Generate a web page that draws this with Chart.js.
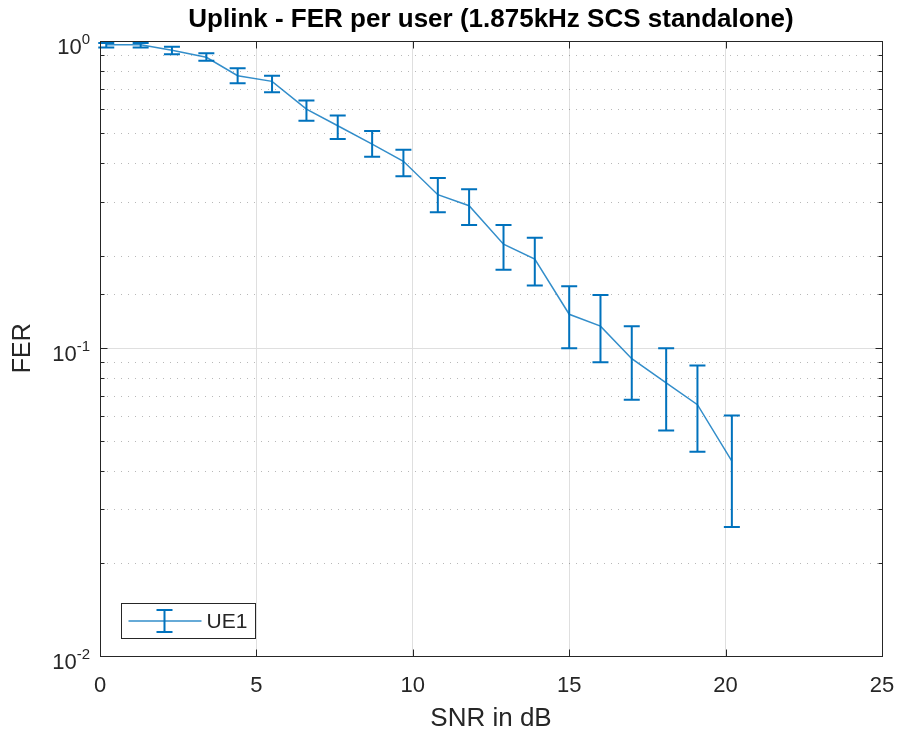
<!DOCTYPE html>
<html>
<head>
<meta charset="utf-8">
<title>Uplink - FER per user</title>
<script src="https://cdn.jsdelivr.net/npm/chart.js@4.4.0/dist/chart.umd.min.js"></script>
<style>
  html, body { margin: 0; padding: 0; background: #fff; }
  #wrap { width: 901px; height: 738px; }
</style>
</head>
<body>
<div id="wrap"><canvas id="fer-chart" width="901" height="738"></canvas></div>
<script>
(function() {
	'use strict';

	// values
	var snrDb   = [0.2, 1.3, 2.3, 3.4, 4.4, 5.5, 6.6, 7.6, 8.7, 9.7, 10.8, 11.8, 12.9, 13.9, 15.0, 16.0, 17.0, 18.1, 19.1, 20.2];
	var ferUe1  = [0.973, 0.973, 0.933, 0.885, 0.771, 0.739, 0.600, 0.530, 0.462, 0.406, 0.316, 0.291, 0.218, 0.195, 0.129, 0.118, 0.0925, 0.0771, 0.0655, 0.0429];
	var ferLow  = [0.952, 0.952, 0.905, 0.863, 0.729, 0.681, 0.550, 0.480, 0.420, 0.363, 0.277, 0.252, 0.180, 0.160, 0.100, 0.090, 0.068, 0.054, 0.046, 0.0262];
	var ferHigh = [0.985, 0.985, 0.958, 0.912, 0.815, 0.771, 0.640, 0.572, 0.509, 0.443, 0.358, 0.329, 0.252, 0.229, 0.159, 0.149, 0.118, 0.100, 0.0878, 0.0604];

	var xTicks = [0, 5, 10, 15, 20, 25];
	var yDecades = [0.01, 0.1, 1];
	var yExponents = ['-2', '-1', '0'];

	var seriesLabel = 'UE1';
	var titleText = 'Uplink - FER per user (1.875kHz SCS standalone)';

	var FONT = "'Liberation Sans', Arial, Helvetica, sans-serif";
	var BLUE = '#0072bd';
	var AXIS = '#262626';
	var GRID = '#dfdfdf';

	function isDecade(v) {
		var l = Math.log10(v);
		return Math.abs(l - Math.round(l)) < 1e-9;
	}

	function errorBar(ctx, px, yTop, yBot, half) {
		ctx.beginPath();
		ctx.moveTo(px, yTop); ctx.lineTo(px, yBot);
		ctx.moveTo(px - half, yTop); ctx.lineTo(px + half, yTop);
		ctx.moveTo(px - half, yBot); ctx.lineTo(px + half, yBot);
		ctx.stroke();
	}

	var matlabAxes = {
		id: 'matlabAxes',
		beforeDatasetsDraw: function(chart) {
			var ctx = chart.ctx, a = chart.chartArea, ys = chart.scales.y;
			ctx.save();
			ctx.lineWidth = 1;
			ys.ticks.forEach(function(t) {
				var py = Math.round(ys.getPixelForValue(t.value)) + 0.5;
				var major = isDecade(t.value);
				ctx.strokeStyle = major ? GRID : 'rgba(0,0,0,0.28)';
				ctx.setLineDash(major ? [] : [1, 6]);
				ctx.beginPath();
				ctx.moveTo(a.left, py);
				ctx.lineTo(a.right, py);
				ctx.stroke();
			});
			ctx.restore();
		},
		afterDatasetsDraw: function(chart) {
			var ctx = chart.ctx, a = chart.chartArea;
			var xs = chart.scales.x, ys = chart.scales.y;
			ctx.save();

			// error bars
			ctx.strokeStyle = BLUE;
			ctx.lineWidth = 2;
			snrDb.forEach(function(x, i) {
				errorBar(ctx, xs.getPixelForValue(x), ys.getPixelForValue(ferHigh[i]), ys.getPixelForValue(ferLow[i]), 8);
			});

			// box and inward ticks
			var L = Math.round(a.left) + 0.5, R = Math.round(a.right) + 0.5;
			var T = Math.round(a.top) + 0.5, B = Math.round(a.bottom) + 0.5;
			ctx.strokeStyle = AXIS;
			ctx.lineWidth = 1;
			ctx.strokeRect(L, T, R - L, B - T);
			ctx.beginPath();
			xTicks.forEach(function(v) {
				var px = Math.round(xs.getPixelForValue(v)) + 0.5;
				ctx.moveTo(px, B); ctx.lineTo(px, B - 7);
				ctx.moveTo(px, T); ctx.lineTo(px, T + 7);
			});
			ys.ticks.forEach(function(t) {
				var py = Math.round(ys.getPixelForValue(t.value)) + 0.5;
				var len = isDecade(t.value) ? 7 : 4;
				ctx.moveTo(L, py); ctx.lineTo(L + len, py);
				ctx.moveTo(R, py); ctx.lineTo(R - len, py);
			});
			ctx.stroke();

			// y tick labels 10^n
			ctx.fillStyle = AXIS;
			ctx.textBaseline = 'alphabetic';
			yDecades.forEach(function(v, i) {
				var py = ys.getPixelForValue(v);
				ctx.font = '15px ' + FONT;
				var supW = ctx.measureText(yExponents[i]).width;
				var right = a.left - 10;
				ctx.textAlign = 'left';
				ctx.fillText(yExponents[i], right - supW, py + 3);
				ctx.font = '22px ' + FONT;
				ctx.textAlign = 'right';
				ctx.fillText('10', right - supW, py + 13);
			});

			// title
			ctx.fillStyle = '#000';
			ctx.font = 'bold 26px ' + FONT;
			ctx.textAlign = 'center';
			ctx.textBaseline = 'middle';
			ctx.fillText(titleText, (a.left + a.right) / 2, 20);

			// legend
			var lx = Math.round(a.left) + 21.5, ly = Math.round(a.bottom) - 52.5, lw = 134, lh = 35;
			var cy = ly + lh / 2;
			ctx.fillStyle = '#fff';
			ctx.fillRect(lx, ly, lw, lh);
			ctx.strokeStyle = AXIS;
			ctx.lineWidth = 1;
			ctx.strokeRect(lx, ly, lw, lh);
			ctx.strokeStyle = 'rgba(0,114,189,0.8)';
			ctx.lineWidth = 1.5;
			ctx.beginPath();
			ctx.moveTo(lx + 7, cy); ctx.lineTo(lx + 80, cy);
			ctx.stroke();
			ctx.strokeStyle = BLUE;
			ctx.lineWidth = 2;
			errorBar(ctx, lx + 43, cy - 11, cy + 11, 8);
			ctx.fillStyle = AXIS;
			ctx.font = '21px ' + FONT;
			ctx.textAlign = 'left';
			ctx.fillText(chart.data.datasets[0].label, lx + 85, cy + 1);

			ctx.restore();
		}
	};

	var canvas = document.getElementById('fer-chart');
	if (!canvas || typeof Chart === 'undefined') return;

	new Chart(canvas.getContext('2d'), {
		type: 'line',
		data: {
			datasets: [{
				label: seriesLabel,
				data: snrDb.map(function(x, i) { return { x: x, y: ferUe1[i] }; }),
				borderColor: 'rgba(0,114,189,0.8)',
				borderWidth: 1.5,
				pointRadius: 0,
				tension: 0,
				fill: false
			}]
		},
		options: {
			responsive: false,
			animation: false,
			events: [],
			layout: { padding: { top: 41, right: 19, bottom: 0, left: 0 } },
			plugins: {
				legend: { display: false },
				tooltip: { enabled: false },
				title: { display: false }
			},
			scales: {
				x: {
					type: 'linear',
					min: 0,
					max: 25,
					afterBuildTicks: function(scale) {
						scale.ticks = xTicks.map(function(v) { return { value: v }; });
					},
					ticks: {
						color: AXIS,
						font: { family: FONT, size: 22 },
						padding: 17,
						maxRotation: 0
					},
					grid: { color: GRID, drawTicks: false },
					border: { display: false },
					title: {
						display: true,
						text: 'SNR in dB',
						color: AXIS,
						font: { family: FONT, size: 26 },
						padding: { top: 0, bottom: 4 }
					},
					afterFit: function(scale) {
						scale.height = 82.5;
						scale.paddingLeft = 0;
						scale.paddingRight = 0;
					}
				},
				y: {
					type: 'logarithmic',
					min: 0.01,
					max: 1,
					ticks: { display: false },
					grid: { display: false },
					border: { display: false },
					title: {
						display: true,
						text: 'FER',
						color: AXIS,
						font: { family: FONT, size: 25 },
						padding: { top: 8, bottom: 0 }
					},
					afterFit: function(scale) { scale.width = 100; }
				}
			}
		},
		plugins: [matlabAxes]
	});
})();
</script>
</body>
</html>
